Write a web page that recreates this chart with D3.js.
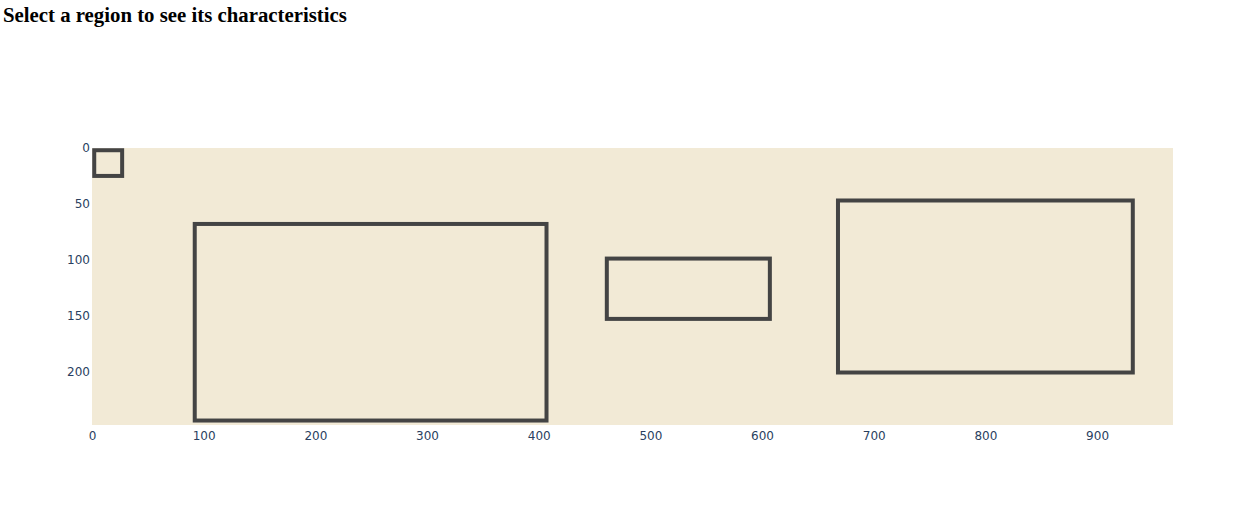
<!DOCTYPE html>
<html>
<head>
<meta charset="utf-8">
<script src="https://cdn.jsdelivr.net/npm/d3@7"></script>
<style>
  html, body { margin: 0; padding: 0; background: #fff; }
  svg { display: block; }
</style>
</head>
<body>
<svg id="chart" width="1236" height="520"></svg>
<script>
const titleText = "Select a region to see its characteristics";
const regionNames = ["A", "B", "C", "D"];
const regionX0 = [2, 92, 461, 668];
const regionX1 = [27, 407, 607, 932];
const regionY0 = [2, 68, 99, 47];
const regionY1 = [25, 244, 153, 201];
const xTicks = [0, 100, 200, 300, 400, 500, 600, 700, 800, 900];
const yTicks = [0, 50, 100, 150, 200];
const xDomain = [0, 968];
const yDomain = [0, 248];

(function () {
const svg = d3.select("#chart");
const mLeft = 92, mTop = 148, mRight = 1173, mBottom = 425;

const x = d3.scaleLinear().domain(xDomain).range([mLeft, mRight]);
const y = d3.scaleLinear().domain(yDomain).range([mTop, mBottom]);

svg.append("text")
  .attr("x", 3).attr("y", 22)
  .attr("font-family", "'Liberation Serif', 'Times New Roman', serif")
  .attr("font-weight", "bold")
  .attr("font-size", 20.8)
  .attr("fill", "#000")
  .text(titleText);

svg.append("rect")
  .attr("x", mLeft).attr("y", mTop)
  .attr("width", mRight - mLeft).attr("height", mBottom - mTop)
  .attr("fill", "#f2ead6");

const xAxis = svg.append("g")
  .attr("transform", `translate(0,${mBottom})`)
  .call(d3.axisBottom(x).tickValues(xTicks).tickSize(0).tickPadding(6).tickFormat(d3.format("d")));
const yAxis = svg.append("g")
  .attr("transform", `translate(${mLeft},0)`)
  .call(d3.axisLeft(y).tickValues(yTicks).tickSize(0).tickPadding(2).tickFormat(d3.format("d")));
[xAxis, yAxis].forEach(g => {
  g.select(".domain").remove();
  g.selectAll("text")
    .attr("font-family", "'DejaVu Sans', Verdana, sans-serif")
    .attr("font-size", 12)
    .attr("fill", "#2a3f5f");
});

svg.append("g").selectAll("rect.region")
  .data(regionNames.map((n, i) => ({n, x0: regionX0[i], x1: regionX1[i], y0: regionY0[i], y1: regionY1[i]})))
  .join("rect")
  .attr("class", "region")
  .attr("x", d => x(d.x0))
  .attr("y", d => y(d.y0))
  .attr("width", d => x(d.x1) - x(d.x0))
  .attr("height", d => y(d.y1) - y(d.y0))
  .attr("fill", "none")
  .attr("stroke", "#444444")
  .attr("stroke-width", 4);
})();
</script>
</body>
</html>
